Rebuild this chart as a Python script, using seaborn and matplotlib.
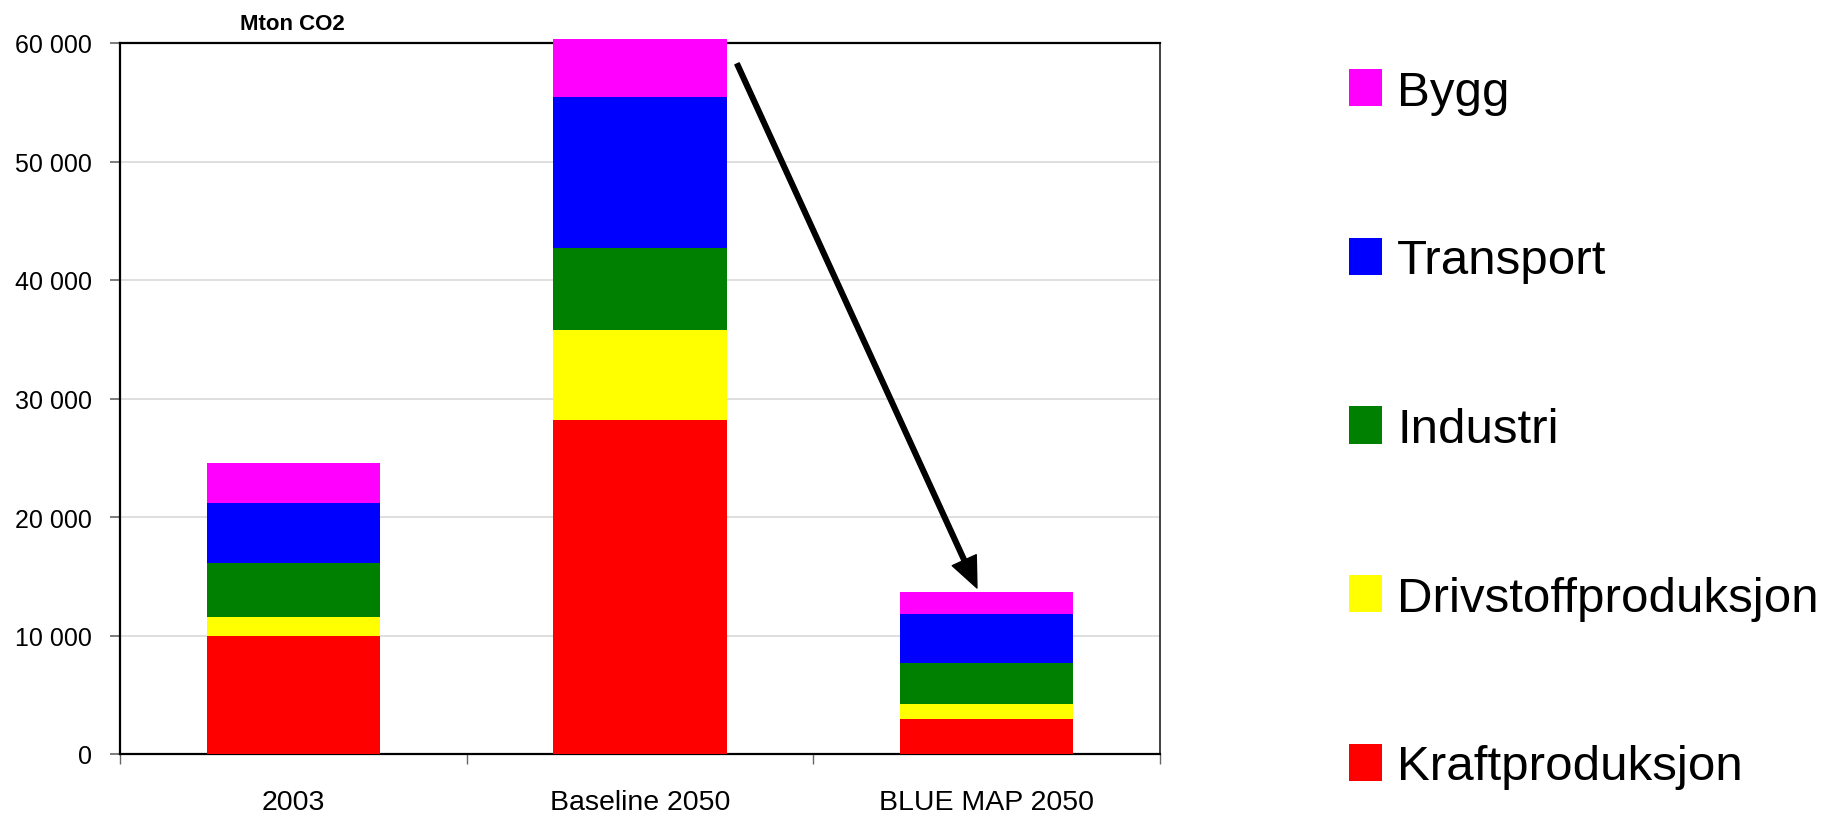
import numpy as np
import pandas as pd
import matplotlib
matplotlib.use("Agg")
import matplotlib.pyplot as plt
from matplotlib import font_manager as fm
from matplotlib.patches import Patch
from matplotlib.ticker import FuncFormatter
import seaborn as sns

# Emissions by sector, Mton CO2
scenarios = ["2003", "Baseline 2050", "BLUE MAP 2050"]
kraftproduksjon = [10000, 28190, 2950]
drivstoffproduksjon = [1560, 7590, 1270]
industri = [4560, 6920, 3460]
transport = [5060, 12740, 4110]
bygg = [3380, 4900, 1880]

sectors = ["Kraftproduksjon", "Drivstoffproduksjon", "Industri", "Transport", "Bygg"]
colors = ["#FF0000", "#FFFF00", "#008000", "#0000FF", "#FF00FF"]
yticks = [0, 10000, 20000, 30000, 40000, 50000, 60000]

sns.set_theme(style="white")
plt.rcParams["font.family"] = ["Liberation Sans", "DejaVu Sans"]
plt.rcParams["text.color"] = "black"

installed = {f.name for f in fm.fontManager.ttflist}
if "Liberation Sans Narrow" in installed:
    legend_family, legend_size = ["Liberation Sans Narrow", "Liberation Sans"], 43
else:
    legend_family, legend_size = ["Liberation Sans", "DejaVu Sans"], 35.5

df = pd.DataFrame({
    "scenario": scenarios,
    "Kraftproduksjon": kraftproduksjon,
    "Drivstoffproduksjon": drivstoffproduksjon,
    "Industri": industri,
    "Transport": transport,
    "Bygg": bygg,
})
stacked = df[sectors].cumsum(axis=1)

W, H = 1822, 820
fig = plt.figure(figsize=(W / 100, H / 100), dpi=100)
ax = fig.add_axes([120 / W, 1 - 755 / H, 1040 / W, 711 / H])

# Stacked bars: draw cumulative totals from the top layer down
for sector, color in reversed(list(zip(sectors, colors))):
    sns.barplot(x=df["scenario"], y=stacked[sector], color=color, saturation=1,
                width=0.5, errorbar=None, linewidth=0, ax=ax,
                clip_on=False, zorder=3)

ax.set_ylim(0, 60000)
ax.set_xlim(-0.5, 2.5)
ax.set_yticks(yticks)
ax.yaxis.set_major_formatter(FuncFormatter(lambda v, _: f"{v:,.0f}".replace(",", " ")))
ax.set_xlabel("")
ax.set_ylabel("")

ax.set_axisbelow(True)
ax.yaxis.grid(True, color="#d9d9d9", linewidth=1.2)
ax.xaxis.grid(False)

for side in ["left", "top", "bottom"]:
    ax.spines[side].set_color("black")
    ax.spines[side].set_linewidth(1.6)
ax.spines["right"].set_color("#333333")
ax.spines["right"].set_linewidth(1.3)

ax.tick_params(axis="y", which="major", left=True, length=7, width=1.2,
               color="#666666", pad=13.5, labelsize=18, labelcolor="black")
ax.set_xticks([-0.5, 0.5, 1.5, 2.5], minor=True)
ax.tick_params(axis="x", which="minor", bottom=True, length=7, width=1.0, color="#666666")
ax.tick_params(axis="x", which="major", length=0, pad=25, labelsize=20.5, labelcolor="black")

ax.annotate("Mton CO2", xy=(0.166, 1.027), xycoords="axes fraction",
            ha="center", va="center", fontsize=16, fontweight="bold", color="black")

# Arrow from the baseline bar down to the BLUE MAP bar
base_total = stacked["Bygg"].iloc[1]
blue_total = stacked["Bygg"].iloc[2]
ax.annotate("", xy=(1.972, blue_total + 340), xytext=(1.28, base_total - 2100),
            xycoords="data", textcoords="data",
            arrowprops=dict(facecolor="black", edgecolor="black", width=3.4,
                            headwidth=19, headlength=22, shrink=0),
            annotation_clip=False, zorder=5)

handles = [Patch(facecolor=c, edgecolor="none", label=s)
           for s, c in zip(reversed(sectors), reversed(colors))]
fs_px = legend_size * 100 / 72
fig.legend(handles=handles, loc="upper left",
           bbox_to_anchor=(1349 / W, 1 - 70 / H), bbox_transform=fig.transFigure,
           frameon=False, borderpad=0, borderaxespad=0,
           handlelength=33 / fs_px, handleheight=39 / fs_px,
           handletextpad=15 / fs_px, labelspacing=2.49, labelcolor="black",
           prop=fm.FontProperties(family=legend_family, size=legend_size))

fig.savefig("out.png", dpi=100, facecolor="white")
